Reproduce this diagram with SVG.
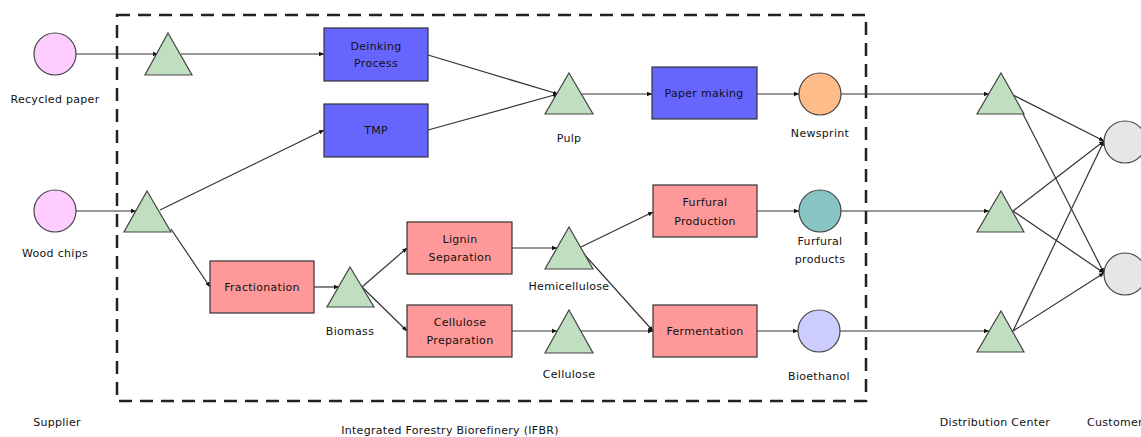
<svg xmlns="http://www.w3.org/2000/svg" width="1141" height="437" viewBox="0 0 1141 437">
  <style>
    text { font-family: "DejaVu Sans", "Liberation Sans", sans-serif; font-size: 11px; letter-spacing: 0.3px; fill: #111; text-anchor: middle; dominant-baseline: central; }
    .tri { fill: #c0dfc0; stroke: #444; stroke-width: 1.2; }
    .circ { stroke: #444; stroke-width: 1.2; }
    .boxb { fill: #6666ff; stroke: #333; stroke-width: 1.2; }
    .boxr { fill: #ff9999; stroke: #333; stroke-width: 1.2; }
    .link { fill: none; stroke: #333; stroke-width: 1.2; marker-end: url(#arr); }
    .frame { fill: none; stroke: #222; stroke-width: 2.5; stroke-dasharray: 13 8; }
  </style>
  <defs>
    <marker id="arr" markerWidth="6" markerHeight="6" refX="5" refY="3" orient="auto" markerUnits="userSpaceOnUse">
      <path d="M0,0.8 L5,3 L0,5.2 Z" fill="#111"/>
    </marker>
  </defs>
  <rect width="1141" height="437" fill="#fff"/>

  <!-- IFBR boundary -->
  <rect class="frame" x="117" y="15" width="749" height="386"/>

  <!-- connectors -->
  <g id="connectors">
    <path class="link" d="M76,54 L158,54"/>
    <path class="link" d="M181,54 L324,54"/>
    <path class="link" d="M76,211 L136,211"/>
    <path class="link" d="M160,210 L324,130"/>
    <path class="link" d="M171,229 L210,287"/>
    <path class="link" d="M428,55 L558,94"/>
    <path class="link" d="M428,130 L558,94"/>
    <path class="link" d="M581,94 L652,94"/>
    <path class="link" d="M757,94 L799,94"/>
    <path class="link" d="M841,94 L989,94"/>
    <path class="link" d="M314,287 L339,287"/>
    <path class="link" d="M362,287 L407,248"/>
    <path class="link" d="M362,287 L407,331"/>
    <path class="link" d="M512,248 L557,248"/>
    <path class="link" d="M512,331 L557,331"/>
    <path class="link" d="M581,247 L653,212"/>
    <path class="link" d="M584,254 L653,331"/>
    <path class="link" d="M581,331 L653,331"/>
    <path class="link" d="M757,211 L799,211"/>
    <path class="link" d="M757,331 L798,331"/>
    <path class="link" d="M841,211 L989,211"/>
    <path class="link" d="M840,331 L989,331"/>
    <path class="link" d="M1013,95 L1104,141"/>
    <path class="link" d="M1022,112 L1104,273"/>
    <path class="link" d="M1013,211 L1104,141"/>
    <path class="link" d="M1013,211 L1104,273"/>
    <path class="link" d="M1013,331 L1104,141"/>
    <path class="link" d="M1013,331 L1104,273"/>
  </g>

  <!-- suppliers -->
  <g id="recycled-paper">
    <circle class="circ" cx="55" cy="54" r="21" fill="#ffccff"/>
    <text x="55" y="99">Recycled paper</text>
  </g>
  <g id="wood-chips">
    <circle class="circ" cx="55" cy="211" r="21" fill="#ffccff"/>
    <text x="55" y="253">Wood chips</text>
  </g>

  <!-- intake hubs -->
  <g id="hub-recycled"><polygon class="tri" points="168,33 192,75 145,75"/></g>
  <g id="hub-wood"><polygon class="tri" points="147,191 171,232 124,232"/></g>

  <!-- processes -->
  <g id="deinking">
    <rect class="boxb" x="324" y="28" width="104" height="53"/>
    <text x="376" y="46">Deinking</text>
    <text x="376" y="63">Process</text>
  </g>
  <g id="tmp">
    <rect class="boxb" x="324" y="104" width="104" height="53"/>
    <text x="376" y="130">TMP</text>
  </g>
  <g id="pulp">
    <polygon class="tri" points="569,73 593,114 545,114"/>
    <text x="569" y="138">Pulp</text>
  </g>
  <g id="paper-making">
    <rect class="boxb" x="652" y="67" width="105" height="52"/>
    <text x="704" y="93">Paper making</text>
  </g>
  <g id="newsprint">
    <circle class="circ" cx="820" cy="94" r="21" fill="#ffbb88"/>
    <text x="820" y="133">Newsprint</text>
  </g>

  <g id="fractionation">
    <rect class="boxr" x="210" y="261" width="104" height="52"/>
    <text x="262" y="287">Fractionation</text>
  </g>
  <g id="biomass">
    <polygon class="tri" points="350,267 374,307 327,307"/>
    <text x="350" y="331">Biomass</text>
  </g>
  <g id="lignin">
    <rect class="boxr" x="407" y="222" width="105" height="52"/>
    <text x="460" y="239">Lignin</text>
    <text x="460" y="257">Separation</text>
  </g>
  <g id="cellulose-prep">
    <rect class="boxr" x="407" y="305" width="105" height="52"/>
    <text x="460" y="322">Cellulose</text>
    <text x="460" y="340">Preparation</text>
  </g>
  <g id="hemicellulose">
    <polygon class="tri" points="569,227 593,269 545,269"/>
    <text x="569" y="286">Hemicellulose</text>
  </g>
  <g id="cellulose">
    <polygon class="tri" points="569,310 593,353 545,353"/>
    <text x="569" y="374">Cellulose</text>
  </g>
  <g id="furfural-production">
    <rect class="boxr" x="653" y="185" width="104" height="52"/>
    <text x="705" y="202">Furfural</text>
    <text x="705" y="221">Production</text>
  </g>
  <g id="fermentation">
    <rect class="boxr" x="653" y="305" width="104" height="52"/>
    <text x="705" y="331">Fermentation</text>
  </g>
  <g id="furfural-products">
    <circle class="circ" cx="820" cy="211" r="21" fill="#88c4c4"/>
    <text x="820" y="241">Furfural</text>
    <text x="820" y="259">products</text>
  </g>
  <g id="bioethanol">
    <circle class="circ" cx="819" cy="331" r="21" fill="#ccccff"/>
    <text x="819" y="376">Bioethanol</text>
  </g>

  <!-- distribution centers -->
  <g id="dc-1"><polygon class="tri" points="1001,73 1024,114 977,114"/></g>
  <g id="dc-2"><polygon class="tri" points="1001,191 1024,232 977,232"/></g>
  <g id="dc-3"><polygon class="tri" points="1001,311 1024,352 977,352"/></g>

  <!-- customers -->
  <g id="customer-1"><circle class="circ" cx="1125" cy="142" r="21" fill="#e6e6e6"/></g>
  <g id="customer-2"><circle class="circ" cx="1125" cy="274" r="21" fill="#e6e6e6"/></g>

  <!-- stage captions -->
  <g id="captions">
    <text x="57" y="422">Supplier</text>
    <text x="450" y="430">Integrated Forestry Biorefinery (IFBR)</text>
    <text x="995" y="422">Distribution Center</text>
    <text x="1087" y="422" style="text-anchor:start">Customer</text>
  </g>
</svg>
